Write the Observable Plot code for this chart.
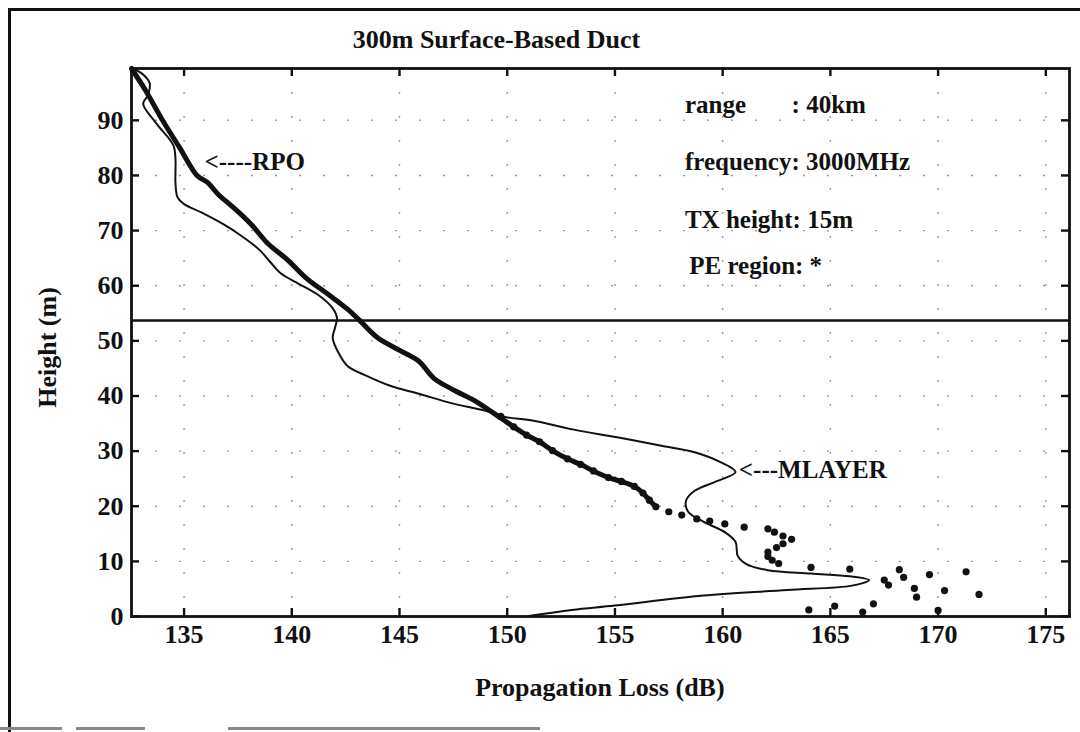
<!DOCTYPE html>
<html><head><meta charset="utf-8">
<script src="https://cdn.jsdelivr.net/npm/d3@7"></script>
<script src="https://cdn.jsdelivr.net/npm/@observablehq/plot@0.6"></script>
<style>
html,body{margin:0;padding:0;background:#fff;}
#wrap{position:relative;width:1080px;height:732px;overflow:hidden;background:#fff;}
#border{position:absolute;left:8px;top:8px;width:1100px;height:760px;border-left:3px solid #111;border-top:3px solid #111;}
.bl{position:absolute;top:727px;height:0;border-top:3px solid #888;}
#chart{position:absolute;left:0;top:0;}
</style></head><body>
<div id="wrap"><div id="border"></div>
<div class="bl" style="left:0;width:62px"></div>
<div class="bl" style="left:76px;width:69px"></div>
<div class="bl" style="left:228px;width:312px"></div>
<div id="chart"></div></div>
<script>
// ---- data ----
const xTicks = [135, 140, 145, 150, 155, 160, 165, 170, 175];
const yTicks = [0, 10, 20, 30, 40, 50, 60, 70, 80, 90];
const xDomain = [132.56, 176.1];
const yDomain = [0, 99.4];
const ductTop = 53.7;

// RPO (thick, continuous part, continuing through the dense beads)
const rpoX = [132.56,133.2,134.0,134.8,135.6,136.1,136.6,137.2,138.1,138.9,139.8,140.7,141.7,142.6,143.1,144.0,145.1,145.9,146.6,147.6,148.5,149.7,150.3,150.9,151.5,152.1,152.8,153.4,154.0,154.7,155.3,155.9,156.3,156.6,156.9];
const rpoY = [99.4,95.5,90.0,85.0,80.0,78.7,76.5,74.5,71.2,67.6,64.7,61.3,58.4,55.7,53.9,50.5,48.1,46.3,43.2,40.9,39.1,36.0,34.4,32.9,31.7,30.1,28.6,27.6,26.4,25.2,24.5,23.6,22.4,21.1,19.9];

// RPO / PE region dots
const dotX = [149.7,150.3,150.9,151.5,152.1,152.8,153.4,154.0,154.7,155.3,155.9,156.3,156.6,156.9,157.5,158.1,158.8,159.4,160.1,161.0,
              162.1,162.4,162.8,163.2,162.8,162.5,162.1,162.1,162.3,162.6,
              164.1,165.9,168.2,168.4,167.5,167.7,168.9,169.0,169.6,170.3,171.3,171.9,170.0,167.0,166.5,165.2,164.0];
const dotY = [36.3,34.4,32.9,31.7,30.1,28.6,27.6,26.4,25.2,24.5,23.6,22.4,21.1,19.9,19.0,18.4,17.7,17.3,16.8,16.2,
              15.9,15.3,14.6,14.0,13.2,12.5,11.7,10.9,10.2,9.6,
              8.9,8.6,8.5,7.1,6.6,5.7,5.1,3.5,7.6,4.7,8.1,4.0,1.1,2.3,0.8,1.9,1.2];

// MLAYER (thin line)
const mlX = [132.56,133.0,133.4,133.4,133.3,133.1,133.7,134.5,134.6,134.6,134.6,134.7,135.0,135.8,136.8,137.6,138.5,139.0,139.5,140.3,141.2,141.9,142.1,142.0,141.9,142.2,142.6,143.5,144.6,145.9,147.4,149.0,149.9,151.1,153.1,155.1,157.1,158.7,159.9,160.6,159.7,158.7,158.3,158.4,159.1,160.1,160.6,160.7,161.1,162.1,164.1,165.9,166.8,166.0,163.0,159.1,155.0,153.0,151.0];
const mlY = [99.4,98.6,96.8,95.7,94.4,93.0,89.5,85.5,83.0,80.5,78.7,76.0,74.8,73.3,71.2,69.2,66.5,64.3,62.2,60.4,58.4,55.9,54.1,52.3,50.5,47.6,45.4,43.6,41.8,40.4,38.7,37.3,36.2,35.6,33.9,32.5,31.0,29.8,28.0,26.2,24.5,22.8,21.0,19.0,17.2,15.3,13.5,11.0,9.5,8.4,7.8,7.3,6.6,5.6,4.8,3.8,2.0,1.2,0.1];

// texts
const titleText = "300m Surface-Based Duct";
const xLabel = "Propagation Loss (dB)";
const yLabel = "Height (m)";
const legendTexts = ["range", ": 40km", "frequency: 3000MHz", "TX height: 15m", "PE region: *"];
const curveLabels = ["<----RPO", "<---MLAYER"];

// ---- build ----
const rpo = rpoX.map((x, i) => ({x, y: rpoY[i]}));
const dots = dotX.map((x, i) => ({x, y: dotY[i]}));
const ml = mlX.map((x, i) => ({x, y: mlY[i]}));

const W = 1080, H = 732, mL = 131, mR = 11, mT = 68, mB = 116;
const innerW = W - mL - mR, innerH = H - mT - mB;
const font = "'Liberation Serif', 'Times New Roman', serif";

const centered = [
  {x: 149.5, y: 104.7, text: titleText},
  {x: 154.3, y: -13.0, text: xLabel}
];
const started = [
  {x: 158.25, y: 92.8, text: legendTexts[0]},
  {x: 163.2, y: 92.8, text: legendTexts[1]},
  {x: 158.25, y: 82.4, text: legendTexts[2]},
  {x: 158.25, y: 72.0, text: legendTexts[3]},
  {x: 158.45, y: 63.6, text: legendTexts[4]},
  {x: 135.95, y: 82.4, text: curveLabels[0]},
  {x: 160.75, y: 26.6, text: curveLabels[1]}
];

const chart = Plot.plot({
  width: W, height: H,
  marginLeft: mL, marginRight: mR, marginTop: mT, marginBottom: mB,
  style: {fontFamily: font, fontSize: "26px", fontWeight: "bold", background: "transparent", color: "#111"},
  x: {domain: xDomain, ticks: xTicks, tickSize: 0, tickPadding: 8, label: null},
  y: {domain: yDomain, ticks: yTicks, tickSize: 0, tickPadding: 8, label: null},
  marks: [
    Plot.ruleX(xTicks, {x: d => d, stroke: "#222", strokeOpacity: 0.45, strokeWidth: 1.4, strokeDasharray: "2,22"}),
    Plot.ruleY(yTicks.filter(d => d > 0), {y: d => d, stroke: "#222", strokeOpacity: 0.45, strokeWidth: 1.4, strokeDasharray: "2,22"}),
    Plot.tickX(xTicks, {x: d => d, insetTop: innerH - 8, strokeWidth: 2.4}),
    Plot.tickX(xTicks, {x: d => d, insetBottom: innerH - 8, strokeWidth: 2.4}),
    Plot.tickY(yTicks, {y: d => d, insetRight: innerW - 8, strokeWidth: 2.4}),
    Plot.tickY(yTicks, {y: d => d, insetLeft: innerW - 8, strokeWidth: 2.4}),
    Plot.ruleY([ductTop], {y: d => d, strokeWidth: 2.6, stroke: "#111"}),
    Plot.line(ml, {x: "x", y: "y", stroke: "#111", strokeWidth: 2, curve: "catmull-rom"}),
    Plot.line(rpo, {x: "x", y: "y", stroke: "#111", strokeWidth: 5, curve: "catmull-rom"}),
    Plot.dot(dots, {x: "x", y: "y", r: 3.6, fill: "#111", stroke: null}),
    Plot.frame({stroke: "#111", strokeWidth: 2.8}),
    Plot.text(centered, {x: "x", y: "y", text: "text", textAnchor: "middle", fontSize: 26, fontWeight: "bold", fill: "#111"}),
    Plot.text(started, {x: "x", y: "y", text: "text", textAnchor: "start", fontSize: 25, fontWeight: "bold", fill: "#111"}),
    Plot.text([yLabel], {x: 128.66, y: 48.8, text: d => d, rotate: -90, fontSize: 26, fontWeight: "bold", fill: "#111"})
  ]
});
document.getElementById("chart").appendChild(chart);
</script>
</body></html>
